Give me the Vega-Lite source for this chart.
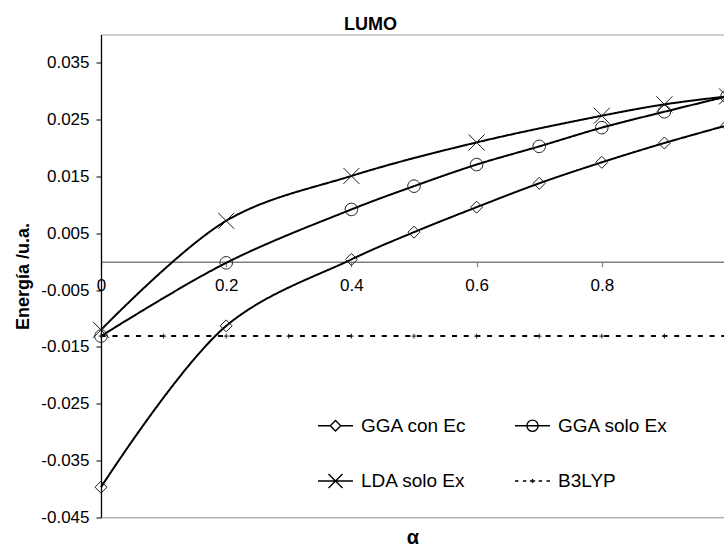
{
  "$schema": "https://vega.github.io/schema/vega-lite/v6.json",
  "width": 623,
  "height": 482.8,
  "autosize": {"type": "none"},
  "padding": {"left": 101, "top": 34.5, "right": 0, "bottom": 30.7},
  "background": "white",
  "config": {
    "view": {"stroke": null},
    "font": "Liberation Sans",
    "axis": {"grid": false, "labelFont": "Liberation Sans", "titleFont": "Liberation Sans", "labelColor": "black", "titleColor": "black"}
  },
  "title": {"text": "LUMO", "fontSize": 18, "fontWeight": "bold", "color": "black", "font": "Liberation Sans", "anchor": "middle", "offset": 6, "baseline": "alphabetic", "dx": -42, "dy": 19.5},
  "data": {
    "values": [
      {"series": "GGA con Ec", "alpha": 0.0, "E": -0.0397},
      {"series": "GGA con Ec", "alpha": 0.2, "E": -0.0113},
      {"series": "GGA con Ec", "alpha": 0.4, "E": 0.0004},
      {"series": "GGA con Ec", "alpha": 0.5, "E": 0.0052},
      {"series": "GGA con Ec", "alpha": 0.6, "E": 0.0096},
      {"series": "GGA con Ec", "alpha": 0.7, "E": 0.0138},
      {"series": "GGA con Ec", "alpha": 0.8, "E": 0.0175},
      {"series": "GGA con Ec", "alpha": 0.9, "E": 0.0209},
      {"series": "GGA con Ec", "alpha": 1.0, "E": 0.0240},
      {"series": "GGA solo Ex", "alpha": 0.0, "E": -0.0131},
      {"series": "GGA solo Ex", "alpha": 0.2, "E": -0.0002},
      {"series": "GGA solo Ex", "alpha": 0.4, "E": 0.0092},
      {"series": "GGA solo Ex", "alpha": 0.5, "E": 0.0133},
      {"series": "GGA solo Ex", "alpha": 0.6, "E": 0.0171},
      {"series": "GGA solo Ex", "alpha": 0.7, "E": 0.0203},
      {"series": "GGA solo Ex", "alpha": 0.8, "E": 0.0236},
      {"series": "GGA solo Ex", "alpha": 0.9, "E": 0.0264},
      {"series": "GGA solo Ex", "alpha": 1.0, "E": 0.0291},
      {"series": "LDA solo Ex", "alpha": 0.0, "E": -0.0120},
      {"series": "LDA solo Ex", "alpha": 0.2, "E": 0.0072},
      {"series": "LDA solo Ex", "alpha": 0.4, "E": 0.0151},
      {"series": "LDA solo Ex", "alpha": 0.6, "E": 0.0210},
      {"series": "LDA solo Ex", "alpha": 0.8, "E": 0.0257},
      {"series": "LDA solo Ex", "alpha": 0.9, "E": 0.0277},
      {"series": "LDA solo Ex", "alpha": 1.0, "E": 0.0291},
      {"series": "B3LYP", "alpha": 0.0, "E": -0.0131},
      {"series": "B3LYP", "alpha": 0.1, "E": -0.0131},
      {"series": "B3LYP", "alpha": 0.2, "E": -0.0131},
      {"series": "B3LYP", "alpha": 0.3, "E": -0.0131},
      {"series": "B3LYP", "alpha": 0.4, "E": -0.0131},
      {"series": "B3LYP", "alpha": 0.5, "E": -0.0131},
      {"series": "B3LYP", "alpha": 0.6, "E": -0.0131},
      {"series": "B3LYP", "alpha": 0.7, "E": -0.0131},
      {"series": "B3LYP", "alpha": 0.8, "E": -0.0131},
      {"series": "B3LYP", "alpha": 0.9, "E": -0.0131},
      {"series": "B3LYP", "alpha": 1.0, "E": -0.0131}
    ]
  },
  "encoding": {
    "y": {
      "field": "E",
      "type": "quantitative",
      "scale": {"domain": [-0.045, 0.04], "nice": false, "zero": false},
      "axis": {
        "values": [-0.045, -0.035, -0.025, -0.015, -0.005, 0.005, 0.015, 0.025, 0.035],
        "labelExpr": "replace(format(datum.value, '.3f'), '\u2212', '-')",
        "title": "Energía /u.a.",
        "titleFontSize": 18,
        "titleFontWeight": "bold",
        "titlePadding": 8,
        "domainColor": "black",
        "domainWidth": 1.3,
        "tickColor": "black",
        "tickSize": 5,
        "labelFontSize": 17,
        "labelPadding": 7,
        "labelFlush": false,
        "labelOverlap": false
      }
    }
  },
  "layer": [
    {
      "mark": {"type": "line", "interpolate": "catmull-rom", "strokeWidth": 2, "color": "black"},
      "encoding": {
        "x": {
          "field": "alpha",
          "type": "quantitative",
          "scale": {"domain": [0, 0.9952], "nice": false, "zero": false},
          "axis": {
            "orient": "bottom",
            "offset": -255.6,
            "values": [0, 0.2, 0.4, 0.6, 0.8],
            "format": ".1~f",
            "domainColor": "#808080",
            "domainWidth": 1.5,
            "tickColor": "#808080",
            "tickSize": 5,
            "tickWidth": 1.2,
            "labelFontSize": 17,
            "labelPadding": 11,
            "labelFlush": false,
            "labelOverlap": false,
            "title": null
          }
        },
        "strokeDash": {
          "field": "series",
          "type": "nominal",
          "scale": {
            "domain": ["GGA con Ec", "GGA solo Ex", "LDA solo Ex", "B3LYP"],
            "range": [[1, 0], [1, 0], [1, 0], [5, 6.7]]
          },
          "legend": null
        }
      }
    },
    {
      "mark": {"type": "point", "filled": false, "color": "#1a1a1a", "strokeWidth": 1, "size": 256, "opacity": 1},
      "encoding": {
        "x": {
          "field": "alpha",
          "type": "quantitative",
          "scale": {"domain": [0, 0.9952], "nice": false, "zero": false},
          "axis": {"orient": "top", "domainColor": "#c0c0c0", "domainWidth": 1.5, "ticks": false, "labels": false, "title": null, "minExtent": 0, "maxExtent": 0}
        },
        "shape": {
          "field": "series",
          "type": "nominal",
          "scale": {
            "domain": ["GGA con Ec", "GGA solo Ex", "LDA solo Ex", "B3LYP"],
            "range": [
              "M0,-0.75L0.75,0L0,0.75L-0.75,0Z",
              "M0.78,0A0.78,0.78,0,1,1,-0.78,0A0.78,0.78,0,1,1,0.78,0Z",
              "M-1,-1L1,1M-1,1L1,-1",
              "M-0.3,0L0.3,0M0,-0.3L0,0.3"
            ]
          },
          "legend": null
        }
      }
    },
    {
      "mark": {"type": "point", "filled": false, "color": "black", "size": 1225, "opacity": 0},
      "encoding": {
        "x": {
          "field": "alpha",
          "type": "quantitative",
          "scale": {"domain": [0, 0.9952], "nice": false, "zero": false},
          "axis": {
            "orient": "bottom",
            "domainColor": "#8c8c8c",
            "domainWidth": 1,
            "ticks": false,
            "labels": false,
            "title": "α",
            "titleFontSize": 20,
            "titleFontWeight": "bold",
            "titlePadding": 10
          }
        },
        "shape": {
          "field": "series",
          "type": "nominal",
          "scale": {
            "domain": ["GGA con Ec", "LDA solo Ex", "GGA solo Ex", "B3LYP"],
            "range": [
              "M-1,0L-0.3,0M0.3,0L1,0M0,-0.3L0.3,0L0,0.3L-0.3,0Z",
              "M-1,0L1,0M-0.4,-0.4L0.4,0.4M-0.4,0.4L0.4,-0.4",
              "M-1,0L1,0M0.32,0A0.32,0.32,0,1,1,-0.32,0A0.32,0.32,0,1,1,0.32,0Z",
              "M-1,0L-0.8,0M-0.55,0L-0.35,0M-0.15,0L0.15,0M0,-0.12L0,0.12M0.35,0L0.55,0M0.8,0L1,0"
            ]
          },
          "legend": {
            "title": null,
            "orient": "none",
            "legendX": 216,
            "legendY": 372.5,
            "columns": 2,
            "columnPadding": 45,
            "rowPadding": 26.5,
            "padding": 0,
            "symbolSize": 1225,
            "symbolStrokeWidth": 1.4,
            "symbolStrokeColor": "black",
            "symbolFillColor": "transparent",
            "symbolOpacity": 1,
            "labelFont": "Liberation Sans",
            "labelFontSize": 19,
            "labelColor": "black",
            "labelOffset": 7,
            "labelLimit": 300
          }
        }
      }
    }
  ],
  "resolve": {"scale": {"shape": "independent"}, "axis": {"x": "independent"}}
}
